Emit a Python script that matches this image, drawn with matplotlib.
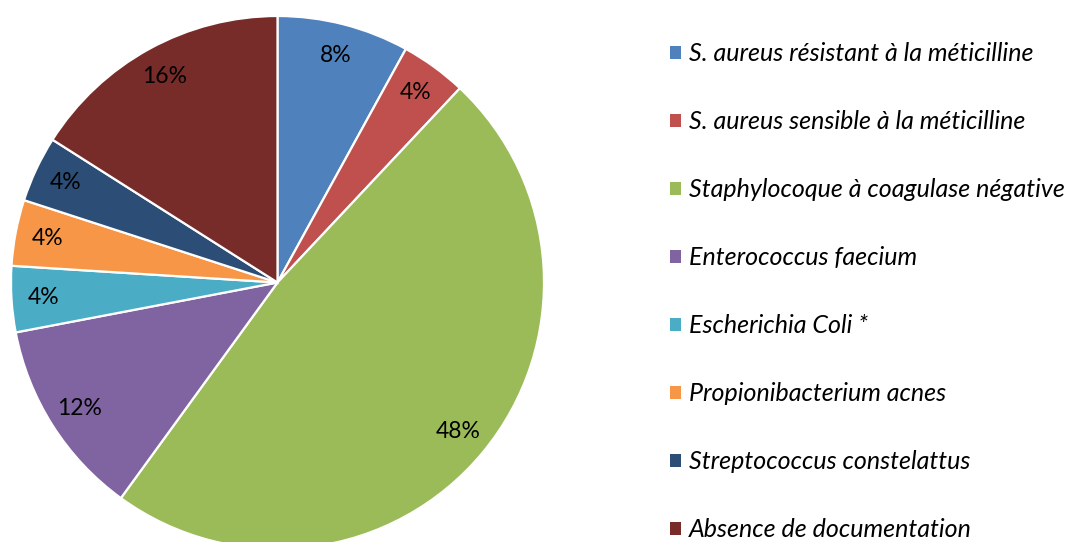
import matplotlib
matplotlib.use("Agg")
import matplotlib.pyplot as plt
from matplotlib.patches import Patch

labels = [
    "S. aureus résistant à la méticilline",
    "S. aureus sensible à la méticilline",
    "Staphylocoque à coagulase négative",
    "Enterococcus faecium",
    "Escherichia Coli *",
    "Propionibacterium acnes",
    "Streptococcus constelattus",
    "Absence de documentation",
]
shares = [8, 4, 48, 12, 4, 4, 4, 16]
colors = ["#4F81BD", "#C0504D", "#9BBB59", "#8064A2",
          "#4BACC6", "#F79646", "#2C4D75", "#772C2A"]

plt.rcParams['font.family'] = ['Lato', 'DejaVu Sans']

W, H = 1073, 542
fig = plt.figure(figsize=(W / 100, H / 100), dpi=100)

# pie box in pixels: x 11..544, y 16..549 (from top)
ax = fig.add_axes([11 / W, (H - 549) / H, 533 / W, 533 / H])
wedges, _, autotexts = ax.pie(
    shares, colors=colors, startangle=90, counterclock=False,
    autopct=lambda p: f"{p:.0f}%", pctdistance=0.88,
    wedgeprops=dict(edgecolor="white", linewidth=1.6),
    textprops=dict(fontsize=16.5, color="black"),
)
ax.set_xlim(-1, 1)
ax.set_ylim(-1, 1)
ax.set_aspect("equal")

handles = [Patch(facecolor=c, edgecolor="none") for c in colors]
leg = fig.legend(
    handles, labels, loc="upper left",
    bbox_to_anchor=(660 / W, 1 - 32 / H),
    frameon=False, handlelength=0.42, handleheight=0.42, handletextpad=0.35,
    labelspacing=1.8, borderaxespad=0,
    prop=dict(size=18, style="italic"),
)

fig.savefig("out.png", dpi=100)
